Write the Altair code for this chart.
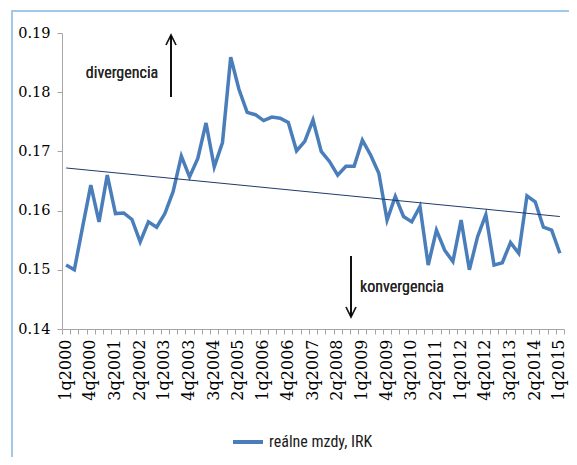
import altair as alt
import pandas as pd

# ---- data ----
quarters = [f"{q}q{y}" for y in range(2000, 2016) for q in range(1, 5)][:61]
irk_real_wages = [
    0.1508, 0.1500, 0.1572, 0.1643, 0.1581, 0.1660, 0.1595, 0.1596, 0.1585, 0.1547,
    0.1581, 0.1572, 0.1595, 0.1632, 0.1692, 0.1657, 0.1688, 0.1748, 0.1674, 0.1715,
    0.1859, 0.1805, 0.1766, 0.1762, 0.1752, 0.1758, 0.1756, 0.1749, 0.1701, 0.1717,
    0.1753, 0.1700, 0.1683, 0.1660, 0.1675, 0.1675, 0.1719, 0.1694, 0.1663, 0.1584,
    0.1624, 0.1590, 0.1581, 0.1607, 0.1508, 0.1567, 0.1533, 0.1514, 0.1584, 0.1500,
    0.1556, 0.1593, 0.1508, 0.1512, 0.1546, 0.1528, 0.1625, 0.1615, 0.1572, 0.1567,
    0.1528,
]
trend_quarters = [quarters[0], quarters[-1]]
trend_values = [0.1672, 0.1590]
labeled_quarters = quarters[::3]
series_name = "reálne mzdy, IRK"
y_ticks = [0.14, 0.15, 0.16, 0.17, 0.18, 0.19]

df = pd.DataFrame({"q": quarters, "v": irk_real_wages, "s": series_name})
df_trend = pd.DataFrame({"q": trend_quarters, "v": trend_values})

SERIF = "DejaVu Serif"
NARROW = "Roboto Condensed"
label_list = "[" + ",".join(f"'{q}'" for q in labeled_quarters) + "]"

x_enc = alt.X(
    "q:O",
    sort=quarters,
    bandPosition=0.5,
    scale=alt.Scale(type="band", paddingInner=0, paddingOuter=0),
    axis=alt.Axis(
        title=None,
        labelAngle=-90,
        labelFont=SERIF,
        labelFontSize=16,
        labelColor="black",
        labelPadding=5,
        labelOffset=-1,
        tickBand="extent",
        tickSize=5,
        tickColor="#A6A6A6",
        domainColor="#A6A6A6",
        labelOverlap=False,
        labelExpr=f"indexof({label_list}, datum.value) >= 0 ? datum.label : ''",
    ),
)
y_enc = alt.Y(
    "v:Q",
    scale=alt.Scale(domain=[0.14, 0.19], nice=False, zero=False),
    axis=alt.Axis(
        title=None,
        values=y_ticks,
        format=".2f",
        grid=False,
        labelFont=SERIF,
        labelFontSize=14.5,
        labelColor="black",
        labelPadding=7,
        tickSize=5,
        tickColor="#A6A6A6",
        domainColor="#A6A6A6",
    ),
)

main = alt.Chart(df).mark_line(strokeWidth=3.5).encode(
    x=x_enc,
    y=y_enc,
    color=alt.Color(
        "s:N",
        scale=alt.Scale(range=["#4A7EBB"]),
        legend=alt.Legend(
            title=None,
            orient="none",
            legendX=169,
            legendY=392,
            symbolType="stroke",
            symbolStrokeWidth=4,
            symbolSize=900,
            labelFont=NARROW,
            labelFontSize=16,
            labelColor="#1a1a1a",
            padding=0,
        ),
    ),
)

trend = alt.Chart(df_trend).mark_line(strokeWidth=1, color="#1F3A6B").encode(
    x=alt.X("q:O", sort=quarters, bandPosition=0.5),
    y="v:Q",
)

# frame around the chart
frame = alt.Chart(df_trend).mark_rect(
    fill=None, stroke="#9DC3E6", strokeWidth=1.5
).encode(x=alt.value(-50), x2=alt.value(560), y=alt.value(-22), y2=alt.value(600))

# annotations
up_rule = alt.Chart(df_trend).mark_rule(color="black", strokeWidth=1.5).encode(
    x=alt.value(109), y=alt.value(3), y2=alt.value(64)
)
up_head = alt.Chart(df_trend).mark_point(
    shape="M-0.5,1L0,0L0.5,1", filled=False, size=400, stroke="black", strokeWidth=1.5
).encode(x=alt.value(109), y=alt.value(2))
div_text = alt.Chart(df_trend).mark_text(
    text="divergencia", font=NARROW, fontSize=16, color="#262626"
).encode(x=alt.value(60), y=alt.value(40))

down_rule = alt.Chart(df_trend).mark_rule(color="black", strokeWidth=1.5).encode(
    x=alt.value(289), y=alt.value(223), y2=alt.value(283)
)
down_head = alt.Chart(df_trend).mark_point(
    shape="M-0.5,-1L0,0L0.5,-1", filled=False, size=400, stroke="black", strokeWidth=1.5
).encode(x=alt.value(289), y=alt.value(284))
conv_text = alt.Chart(df_trend).mark_text(
    text="konvergencia", font=NARROW, fontSize=16, color="#262626"
).encode(x=alt.value(340), y=alt.value(254))

chart = alt.layer(
    frame, main, trend, up_rule, up_head, div_text, down_rule, down_head, conv_text
).properties(
    width=502,
    height=296,
    padding={"left": 54, "top": 25, "right": 5, "bottom": 128},
    autosize=alt.AutoSizeParams(type="none"),
).configure_view(stroke=None).configure_axis(labelFont=SERIF)

chart.save("out.html", embed_options={"renderer": "svg", "actions": False})
